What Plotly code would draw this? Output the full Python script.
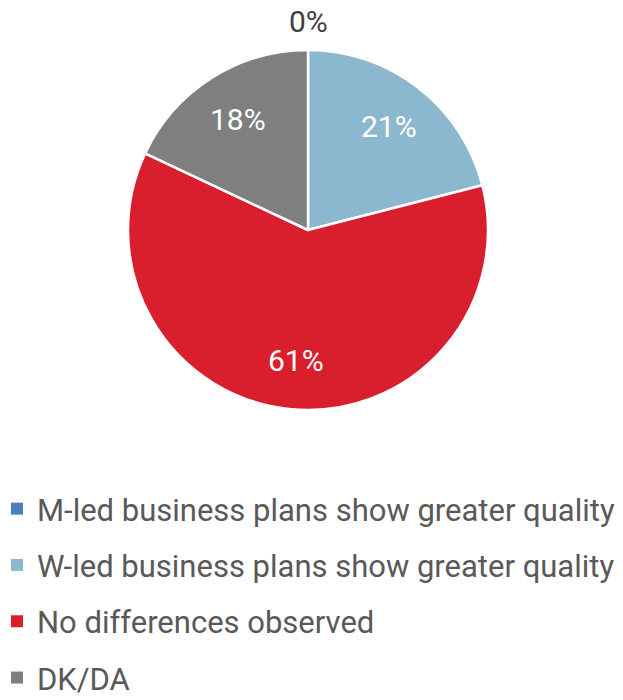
import math
import plotly.graph_objects as go

# Survey responses: which business plans show greater quality
labels = [
    "M-led business plans show greater quality",
    "W-led business plans show greater quality",
    "No differences observed",
    "DK/DA",
]
shares = [0, 21, 61, 18]
colors = ["#4A7EBB", "#8BB8CE", "#D91F2D", "#7F7F7F"]
label_colors = ["#404040", "#FFFFFF", "#FFFFFF", "#FFFFFF"]
label_positions = ["outside", "inside", "inside", "inside"]

FONT = "Roboto"
W, H = 623, 700

# Pie placement (pixels on the page)
CX, CY, R = 308, 230, 180

fig = go.Figure()

fig.add_trace(go.Pie(
    labels=labels,
    values=shares,
    sort=False,
    direction="clockwise",
    rotation=0,
    marker=dict(colors=colors, line=dict(color="#FFFFFF", width=2.5)),
    textinfo="none",
    domain=dict(x=[(CX - R) / W, (CX + R) / W], y=[(H - CY - R) / H, (H - CY + R) / H]),
    showlegend=False,
    hoverinfo="label+percent",
))

# Percentage labels at each slice's mid-angle (clockwise from 12 o'clock)
total = sum(shares)
cum = 0
for val, pos, tcol in zip(shares, label_positions, label_colors):
    mid = 2 * math.pi * (cum + val / 2) / total
    cum += val
    k = 1.16 if pos == "outside" else 0.73
    px = CX + k * R * math.sin(mid)
    py = CY - k * R * math.cos(mid)
    fig.add_annotation(
        x=px / W, y=(H - py) / H, xref="paper", yref="paper",
        text=f"{val}%", showarrow=False,
        xanchor="center", yanchor="middle",
        font=dict(family=FONT, size=30, color=tcol),
    )

# Legend entries, one group per category so they can be spaced apart
for name, col in zip(labels, colors):
    fig.add_trace(go.Scatter(
        x=[None], y=[None],
        mode="markers",
        name=name,
        legendgroup=name,
        marker=dict(symbol="square", size=12, color=col),
        hoverinfo="skip",
    ))

fig.update_layout(
    width=W,
    height=H,
    margin=dict(l=0, r=0, t=0, b=0, autoexpand=False),
    paper_bgcolor="#FFFFFF",
    plot_bgcolor="#FFFFFF",
    font=dict(family=FONT, color="#595959"),
    xaxis=dict(visible=False),
    yaxis=dict(visible=False),
    legend=dict(
        x=-3 / W,
        xanchor="left",
        y=(H - 482) / H,
        yanchor="top",
        traceorder="grouped",
        tracegroupgap=13,
        font=dict(family=FONT, size=31, color="#595959"),
        bgcolor="rgba(0,0,0,0)",
    ),
)

fig.write_html("out.html")
